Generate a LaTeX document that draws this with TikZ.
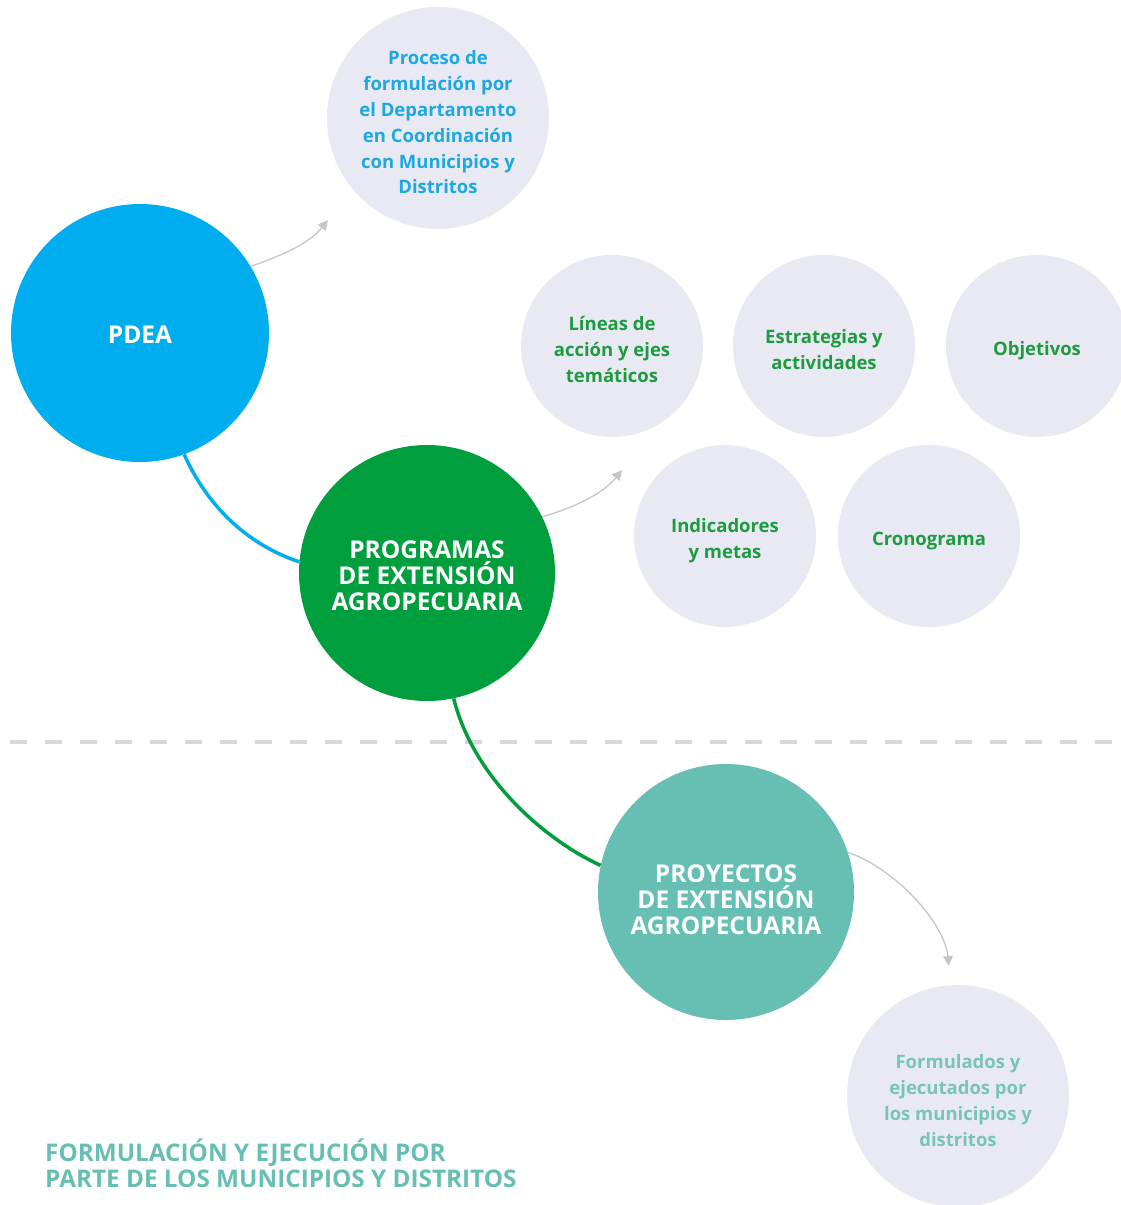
\documentclass[tikz,border=0pt]{standalone}
\usepackage{fontspec}
\setmainfont{Open Sans}
\usetikzlibrary{arrows.meta}
\definecolor{pdeablue}{HTML}{00AEEF}
\definecolor{txtblue}{HTML}{1DA8E0}
\definecolor{progreen}{HTML}{009E3D}
\definecolor{txtgreen}{HTML}{1E9B40}
\definecolor{teal}{HTML}{67BFB3}
\definecolor{txtteal}{HTML}{78C4B8}
\definecolor{lightc}{HTML}{E9E9F3}
\definecolor{arrowgray}{HTML}{C6C6C6}
\definecolor{dashgray}{HTML}{D8D8D8}
\tikzset{
  bigc/.style={circle,inner sep=0pt,minimum size=#1},
  bigt/.style={inner sep=0pt,align=center,text=white,
    font=\fontsize{24.5}{26}\selectfont\bfseries},
  smallc/.style={circle,inner sep=0pt,minimum size=#1,fill=lightc},
  smallt/.style={inner sep=0pt,align=center,
    font=\fontsize{18.5}{25.8}\selectfont\bfseries},
  link/.style={line width=3.5pt},
  garrow/.style={draw=arrowgray,line width=1.3pt,-{Triangle[length=10pt,width=10pt]},arrowgray},
}
\begin{document}
\begin{tikzpicture}[x=1pt,y=-1pt]
\useasboundingbox[fill=white] (0,0) rectangle (1121,1205);
% dashed divider
\coordinate (dl) at (10,742);
\coordinate (dr) at (1121,742);
\draw[dashgray,line width=4pt,dash pattern=on 17pt off 18pt] (dl) -- (dr);
% circles
\node[bigc=258pt,fill=pdeablue] (pdea) at (140,333) {};
\node[smallc=222pt] (proc) at (438,118) {};
\node[bigc=256pt,fill=progreen] (prog) at (427,573) {};
\node[smallc=182pt] (lin) at (612,346) {};
\node[smallc=182pt] (est) at (824,346) {};
\node[smallc=182pt] (obj) at (1037,346) {};
\node[smallc=182pt] (ind) at (725,536) {};
\node[smallc=182pt] (cro) at (929,536) {};
\node[bigc=256pt,fill=teal] (proy) at (726,892) {};
\node[smallc=222pt] (form) at (958,1096) {};
% texts
\node[bigt] (pdeat) at ([yshift=-2pt]pdea.center) {PDEA};
\node[bigt] (progt) at ([yshift=-3pt]prog.center) {PROGRAMAS\\DE EXTENSIÓN\\AGROPECUARIA};
\node[bigt] (proyt) at ([yshift=-8pt]proy.center) {PROYECTOS\\DE EXTENSIÓN\\AGROPECUARIA};
\node[smallt,text=txtblue] (proct) at ([yshift=-4.5pt]proc.center) {Proceso de\\formulación por\\el Departamento\\en Coordinación\\con Municipios y\\Distritos};
\node[smallt,text=txtgreen] (lint) at ([yshift=-3.5pt]lin.center) {Líneas de\\acción y ejes\\temáticos};
\node[smallt,text=txtgreen] (estt) at ([yshift=-3.5pt]est.center) {Estrategias y\\actividades};
\node[smallt,text=txtgreen] (objt) at ([yshift=-5pt]obj.center) {Objetivos};
\node[smallt,text=txtgreen] (indt) at ([yshift=-5pt]ind.center) {Indicadores\\y metas};
\node[smallt,text=txtgreen] (crot) at ([yshift=-5pt]cro.center) {Cronograma};
\node[smallt,text=txtteal] (formt) at ([yshift=-4.5pt]form.center) {Formulados y\\ejecutados por\\los municipios y\\distritos};
\node[anchor=north west,align=left,inner sep=0pt,text=teal,
  font=\fontsize{24.3}{26}\selectfont\bfseries] (title) at (45,1139)
  {FORMULACIÓN Y EJECUCIÓN POR\\PARTE DE LOS MUNICIPIOS Y DISTRITOS};
% connectors
\draw[link,pdeablue] (pdea.-70.6) .. controls +(28,62) and +(-42,-14) .. (prog.175);
\draw[link,progreen] (prog.-78.4) .. controls +(20,80) and +(-55,-25) .. (proy.168);
% gray arrows
\coordinate (a1) at (328,220);
\coordinate (a2) at (622,470);
\coordinate (a3) at (949,966);
\draw[garrow] (pdea.31) .. controls +(28,-10) and +(-20,25) .. (a1);
\draw[garrow] (prog.26) .. controls +(28,-8) and +(-20,25) .. (a2);
\draw[garrow] (proy.18) .. controls +(45,15) and +(-5,-45) .. (a3);
\end{tikzpicture}
\end{document}
